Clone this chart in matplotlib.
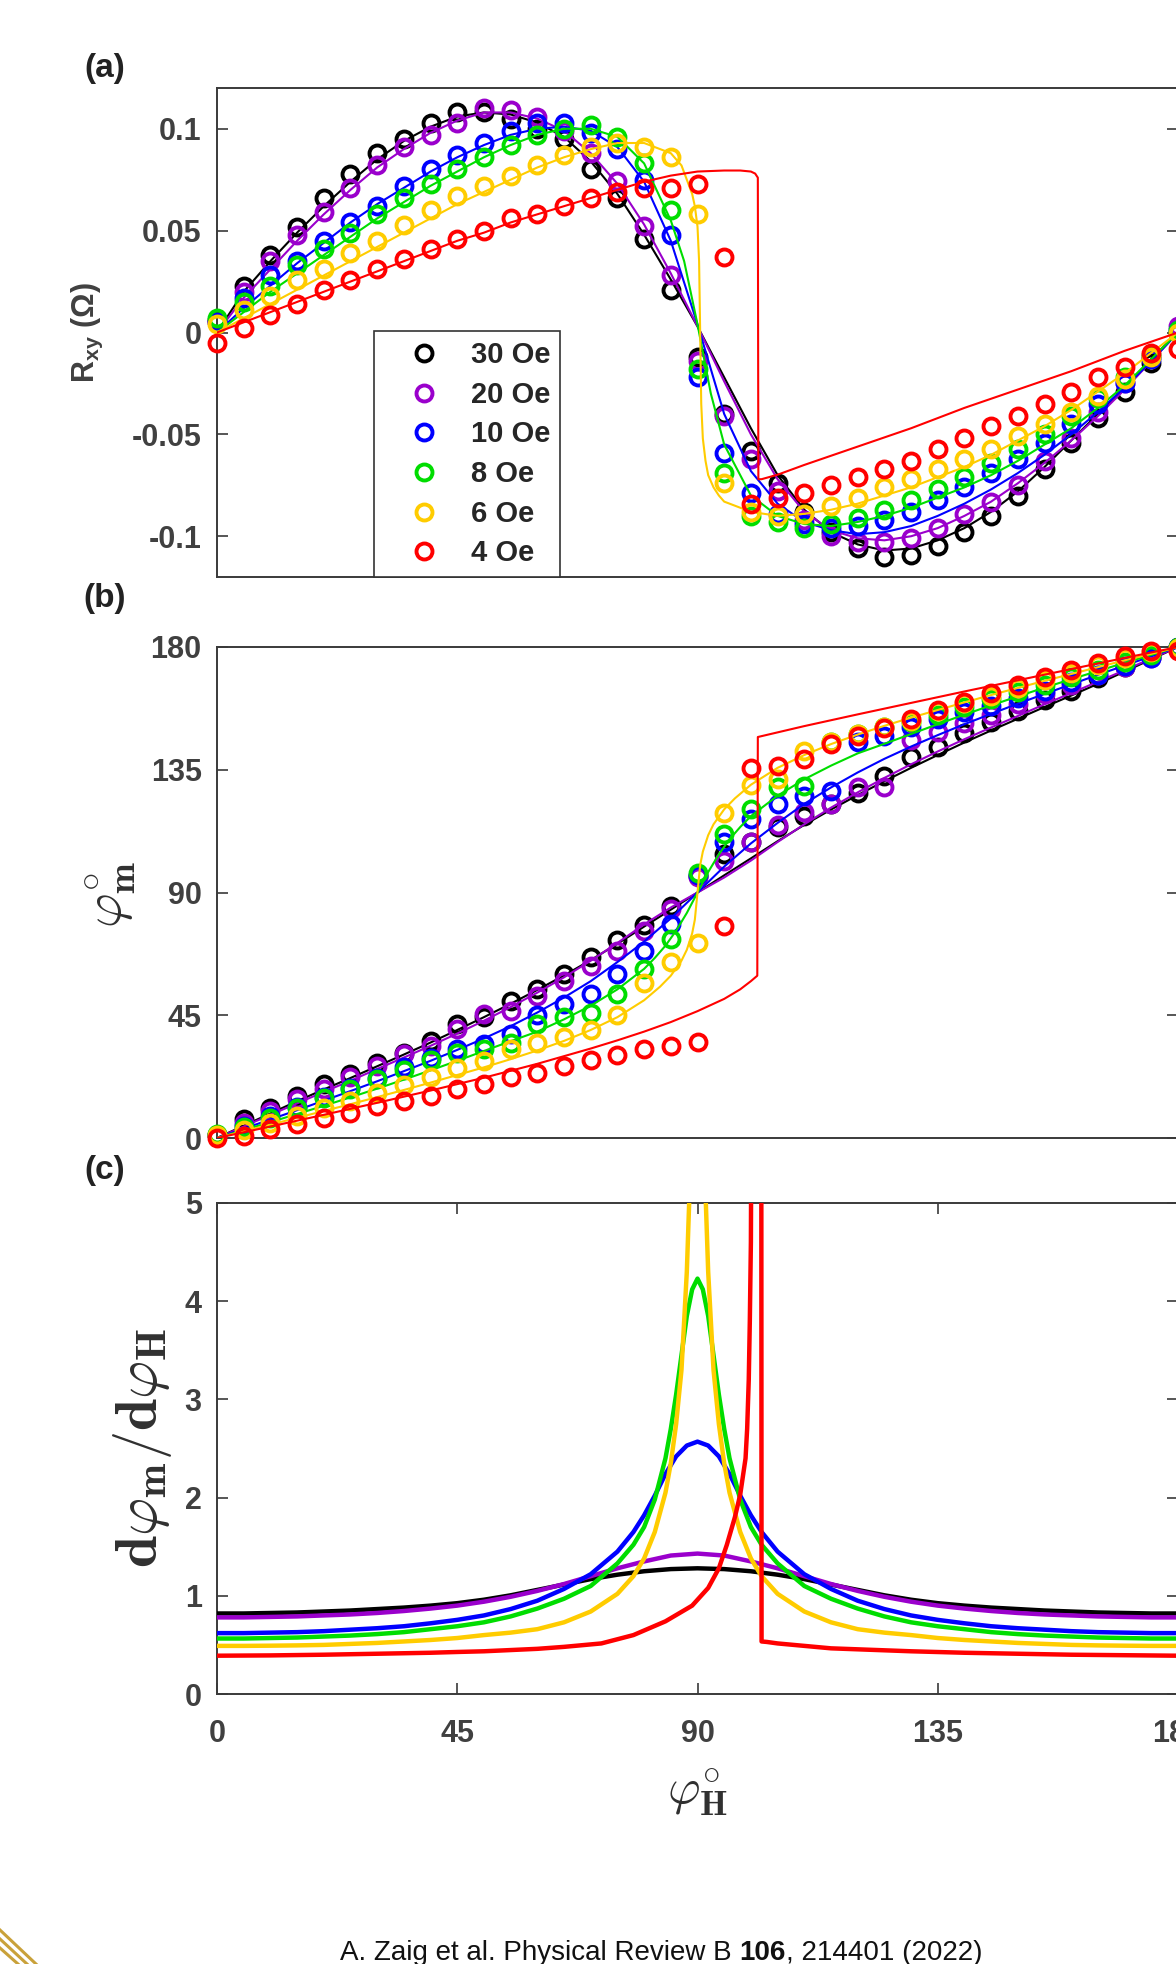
import matplotlib
matplotlib.use("Agg")
import matplotlib.pyplot as plt
from matplotlib.lines import Line2D

plt.rcParams['font.family'] = ['Liberation Sans', 'DejaVu Sans']
plt.rcParams['axes.unicode_minus'] = False

# ---- series names and colours
fields = ['30 Oe', '20 Oe', '10 Oe', '8 Oe', '6 Oe', '4 Oe']
colors = ['#000000', '#9a00cc', '#0000ff', '#00dd00', '#ffcc00', '#ff0000']

# field angle of the measured points (deg)
ang = [0, 5, 10, 15, 20, 25, 30, 35, 40, 45, 50, 55, 60, 65, 70, 75, 80, 85, 90,
       95, 100, 105, 110, 115, 120, 125, 130, 135, 140, 145, 150, 155, 160, 165,
       170, 175, 180]

# ---- (a) measured R_xy (ohm)
rxy_30 = [0.006, 0.023, 0.038, 0.052, 0.066, 0.078, 0.088, 0.095, 0.103, 0.108,
          0.108, 0.105, 0.100, 0.095, 0.080, 0.066, 0.046, 0.021, -0.012, -0.040,
          -0.058, -0.074, -0.088, -0.098, -0.106, -0.110, -0.109, -0.105, -0.098, -0.090,
          -0.080, -0.067, -0.054, -0.042, -0.029, -0.015, 0.000]
rxy_20 = [0.005, 0.020, 0.035, 0.048, 0.059, 0.071, 0.082, 0.091, 0.097, 0.103,
          0.110, 0.109, 0.106, 0.099, 0.088, 0.0745, 0.0525, 0.028, -0.014, -0.041,
          -0.062, -0.078, -0.092, -0.100, -0.103, -0.103, -0.101, -0.096, -0.089, -0.083,
          -0.075, -0.063, -0.052, -0.039, -0.025, -0.012, 0.003]
rxy_10 = [0.005, 0.017, 0.028, 0.035, 0.045, 0.054, 0.062, 0.072, 0.080, 0.087,
          0.093, 0.099, 0.103, 0.103, 0.098, 0.090, 0.075, 0.048, -0.022, -0.059,
          -0.079, -0.089, -0.094, -0.096, -0.095, -0.092, -0.088, -0.082, -0.076, -0.069,
          -0.062, -0.054, -0.045, -0.035, -0.025, -0.013, 0.001]
rxy_8 = [0.007, 0.015, 0.023, 0.033, 0.041, 0.049, 0.058, 0.066, 0.073, 0.080,
         0.086, 0.092, 0.097, 0.100, 0.102, 0.096, 0.083, 0.060, -0.018, -0.069,
         -0.090, -0.093, -0.096, -0.094, -0.091, -0.087, -0.082, -0.077, -0.071, -0.064,
         -0.057, -0.050, -0.041, -0.032, -0.022, -0.011, 0.001]
rxy_6 = [0.004, 0.011, 0.018, 0.026, 0.031, 0.039, 0.045, 0.053, 0.060, 0.067,
         0.072, 0.077, 0.082, 0.087, 0.091, 0.093, 0.091, 0.086, 0.058, -0.074,
         -0.088, -0.090, -0.089, -0.085, -0.081, -0.076, -0.072, -0.067, -0.062, -0.057,
         -0.051, -0.045, -0.039, -0.031, -0.023, -0.012, 0.000]
rxy_4 = [-0.005, 0.002, 0.0085, 0.014, 0.021, 0.026, 0.031, 0.036, 0.041, 0.046,
         0.050, 0.056, 0.058, 0.062, 0.066, 0.069, 0.071, 0.071, 0.073, 0.037,
         -0.084, -0.081, -0.079, -0.075, -0.071, -0.067, -0.063, -0.057, -0.052, -0.046,
         -0.041, -0.035, -0.029, -0.022, -0.017, -0.010, -0.008]

# (a) model curves
fa_30 = [0, 0.020, 0.035, 0.049, 0.062, 0.074, 0.085, 0.094, 0.101, 0.106,
         0.108, 0.107, 0.103, 0.096, 0.084, 0.068, 0.048, 0.026, 0.003, -0.022,
         -0.047, -0.070, -0.087, -0.098, -0.104, -0.107, -0.106, -0.102, -0.096, -0.088,
         -0.078, -0.066, -0.053, -0.040, -0.027, -0.013, 0.0]
fa_20 = [0, 0.017, 0.031, 0.045, 0.058, 0.070, 0.081, 0.090, 0.098, 0.104,
         0.108, 0.108, 0.105, 0.099, 0.088, 0.073, 0.053, 0.029, 0.003, -0.024,
         -0.050, -0.072, -0.088, -0.097, -0.101, -0.102, -0.100, -0.096, -0.090, -0.083,
         -0.074, -0.064, -0.053, -0.041, -0.028, -0.014, 0.0]
fa_10 = [0, 0.012, 0.023, 0.034, 0.044, 0.054, 0.063, 0.071, 0.079, 0.086,
         0.092, 0.097, 0.100, 0.101, 0.099, 0.091, 0.074, 0.045, 0.004, -0.040,
         -0.068, -0.084, -0.093, -0.097, -0.099, -0.098, -0.095, -0.090, -0.084, -0.077,
         -0.069, -0.060, -0.050, -0.039, -0.027, -0.014, 0.0]
fa_8_x = [0, 5, 10, 15, 20, 25, 30, 35, 40, 45, 50, 55, 60, 65, 70, 75, 80, 85, 87.5,
          90, 92.5, 95, 100, 105, 110, 115, 120, 125, 130, 135, 140, 145, 150, 155,
          160, 165, 170, 175, 180]
fa_8 = [0, 0.010, 0.020, 0.029, 0.038, 0.047, 0.056, 0.064, 0.072, 0.079,
        0.086, 0.092, 0.097, 0.100, 0.100, 0.096, 0.083, 0.055, 0.035,
        0.004, -0.030, -0.055, -0.080, -0.090, -0.094, -0.095, -0.093, -0.090, -0.086,
        -0.081, -0.076, -0.070, -0.063, -0.055, -0.047, -0.037, -0.026, -0.013, 0.0]
fa_6_x = [0, 5, 10, 15, 20, 25, 30, 35, 40, 45, 50, 55, 60, 65, 70, 75, 80,
          85, 87, 88, 89, 89.5, 90, 90.3, 90.5, 90.7, 91, 91.5, 92, 93, 94,
          95, 100, 105, 110, 115, 120, 125, 130, 135, 140, 145, 150, 155, 160, 165,
          170, 175, 180]
fa_6 = [0, 0.007, 0.014, 0.021, 0.028, 0.035, 0.042, 0.049, 0.056, 0.063, 0.069,
        0.075, 0.081, 0.086, 0.090, 0.093, 0.093,
        0.088, 0.082, 0.075, 0.068, 0.062, 0.052, 0.035, 0.0, -0.035, -0.052, -0.063,
        -0.070, -0.076, -0.080,
        -0.083, -0.088, -0.090, -0.089, -0.087, -0.084, -0.080, -0.076, -0.071, -0.066,
        -0.060, -0.053, -0.046, -0.038, -0.029, -0.020, -0.010, 0.0]
fa_4_x = [0, 5, 10, 15, 20, 25, 30, 35, 40, 45, 50, 55, 60, 65, 70, 75, 80, 85, 90,
          95, 98, 100, 100.8, 101.3, 101.4, 102, 105, 110, 120, 130, 140, 150, 160,
          170, 180]
fa_4 = [0, 0.005, 0.010, 0.015, 0.020, 0.025, 0.030, 0.035, 0.040, 0.045, 0.049,
        0.054, 0.058, 0.062, 0.066, 0.070, 0.074, 0.077, 0.079, 0.0795, 0.0795,
        0.079, 0.078, 0.076, -0.072, -0.072, -0.0698, -0.065, -0.056, -0.047, -0.037,
        -0.028, -0.019, -0.009, 0.0]

# ---- (b) measured magnetisation angle phi_m (deg)
phi_30 = [1, 6.9, 11.1, 15.5, 19.7, 23.4, 27.6, 31.2, 35.6, 41.8,
          44.5, 50.3, 54.5, 60.0, 66.5, 72.5, 78, 85, 96, 104,
          108.5, 114, 118, 122.3, 126.5, 132.8, 139.7, 143.5, 148.5, 152.5,
          156.5, 160.5, 164, 168.5, 172.5, 176.5, 180]
phi_20 = [1, 5.6, 9.9, 14.2, 17.9, 22.2, 26.4, 30.7, 33.8, 39.9,
          45.4, 46.5, 52.2, 57.7, 63.2, 68.5, 76, 84, 95.5, 101.4,
          108.4, 114.7, 119.5, 122.3, 128.6, 128.6, 146, 148.8, 152.3, 155,
          159, 162.7, 166.2, 169.7, 172.5, 176, 180]
phi_10 = [1, 4.5, 8, 11.5, 15, 18.5, 22, 26, 29.5, 32.5,
          34.5, 38, 45, 49, 52.7, 60.3, 68.7, 78.4, 96.5, 108.4,
          117, 122.5, 125.5, 127.2, 145, 147.5, 150.5, 153.5, 156, 158.5,
          161.3, 164, 167, 169.7, 173, 176, 180]
phi_8 = [1.5, 4, 7.5, 11, 14.8, 17.9, 21.5, 25, 28.5, 31,
         32.6, 35, 41.8, 44.2, 45.7, 52.7, 62, 73, 97, 111.5,
         120.5, 128.5, 129, 145, 148, 150.5, 152.5, 155, 158, 161,
         163.5, 166, 169, 171.5, 174.5, 177, 180]
phi_6 = [1, 3, 5.5, 8, 11, 13.5, 16.5, 19.5, 22.5, 25.5,
         28.3, 32.5, 35, 37, 39.5, 45, 57, 64.5, 71.5, 119,
         129.5, 131.5, 142, 145, 148, 150.5, 153, 156.5, 159.5, 162,
         165, 168, 170.5, 173.5, 176, 178, 179.5]
phi_4 = [0, 0.7, 3.2, 5, 7.5, 9.3, 11.8, 13.6, 15.4, 17.9,
         19.7, 22.2, 24, 26.5, 28.5, 30.5, 32.5, 33.9, 35.3, 77.7,
         135.5, 136.5, 139, 144.3, 147.3, 150.3, 153.5, 157, 160, 163.2,
         166, 169, 171.4, 174, 176.6, 178.6, 178.5]

# (b) model curves
fb_30 = [0, 4.5, 9, 13.5, 17.8, 22, 26.3, 30.6, 35, 39.6, 44.3, 49.2, 54.3, 59.6,
         65.2, 71.2, 77.5, 83.7, 90, 96.3, 102.5, 108.8, 114.8, 120.4, 125.7, 130.8,
         135.7, 140.4, 145, 149.4, 153.7, 158, 162.2, 166.5, 171, 175.5, 180]
fb_20 = [0, 4.2, 8.5, 12.7, 16.9, 21, 25.3, 29.5, 33.8, 38.3, 43, 48, 53.3, 58.9,
         65, 71.5, 78.3, 84.5, 90, 95.5, 101.7, 108.5, 115, 121.1, 126.7, 132, 137,
         141.7, 146.2, 150.5, 154.7, 159, 163.1, 167.3, 171.5, 175.8, 180]
fb_10 = [0, 3.4, 6.8, 10.2, 13.7, 17.2, 20.8, 24.5, 28.3, 32.3, 36.5, 41, 46, 51.5,
         57.5, 64.5, 72, 80.5, 90, 99.5, 108, 115.5, 122.5, 128.5, 134, 139, 143.5,
         147.7, 151.7, 155.5, 159.2, 162.8, 166.3, 169.8, 173.2, 176.6, 180]
fb_8_x = [0, 5, 10, 15, 20, 25, 30, 35, 40, 45, 50, 55, 60, 65, 70, 75, 80,
          82, 84, 86, 88, 90, 92, 94, 96, 98,
          100, 105, 110, 115, 120, 125, 130, 135, 140, 145, 150, 155, 160, 165, 170,
          175, 180]
fb_8 = [0, 2.9, 5.8, 8.8, 11.8, 14.9, 18.1, 21.4, 24.8, 28.3, 31.9, 35.5, 39, 43.5,
        48.5, 54.5, 62,
        66, 70.5, 76, 82.5, 90, 97.5, 104, 109.5, 114,
        118, 125.5, 131.5, 136.5, 141, 144.5, 148.1, 151.7, 155.2, 158.6, 161.9,
        165.1, 168.2, 171.2, 174.2, 177.1, 180]
fb_6_x = [0, 5, 10, 15, 20, 25, 30, 35, 40, 45, 50, 55, 60, 65, 70, 75, 80,
          83, 85, 87, 88, 89, 89.5, 90, 90.5, 91, 92, 93, 95, 97,
          100, 105, 110, 115, 120, 125, 130, 135, 140, 145, 150, 155, 160, 165, 170,
          175, 180]
fb_6 = [0, 2.5, 4.9, 7.4, 9.9, 12.4, 15, 17.6, 20.3, 23.1, 25.9, 28.9, 32.1, 35.6,
        39.6, 44.3, 50.5,
        55.5, 59.5, 65, 69, 75, 80, 90, 100, 105, 111, 115, 120.5, 124.5,
        129.5, 135.7, 140.4, 144.4, 147.9, 151.1, 154.1, 156.9, 159.7, 162.4, 165,
        167.6, 170.1, 172.6, 175.1, 177.5, 180]
fb_4_x = [0, 10, 20, 30, 40, 50, 60, 70, 75, 80, 85, 90, 95, 98, 100, 101.2, 101.3,
          110, 120, 130, 140, 150, 160, 170, 180]
fb_4 = [0, 4.2, 8.5, 12.9, 17.4, 22.1, 27.2, 32.8, 35.8, 39, 42.5, 46.5, 51, 54.5,
        57.5, 59.5, 147, 151, 155.3, 159.5, 163.7, 167.8, 171.9, 176, 180]

# ---- (c) model derivative d(phi_m)/d(phi_H)
fc_30 = [0.82, 0.82, 0.825, 0.83, 0.84, 0.85, 0.865, 0.88, 0.90, 0.925, 0.96, 1.005,
         1.06, 1.115, 1.17, 1.215, 1.25, 1.272, 1.28, 1.272, 1.25, 1.215, 1.17, 1.115,
         1.06, 1.005, 0.96, 0.925, 0.90, 0.88, 0.865, 0.85, 0.84, 0.83, 0.825, 0.82, 0.82]
fc_20 = [0.78, 0.78, 0.785, 0.79, 0.80, 0.81, 0.825, 0.845, 0.87, 0.90, 0.94, 0.99,
         1.05, 1.12, 1.20, 1.28, 1.35, 1.41, 1.43, 1.41, 1.35, 1.28, 1.20, 1.12,
         1.05, 0.99, 0.94, 0.90, 0.87, 0.845, 0.825, 0.81, 0.80, 0.79, 0.785, 0.78, 0.78]
fc_10_x = [0, 5, 10, 15, 20, 25, 30, 35, 40, 45, 50, 55, 60, 65, 70, 75,
           78, 80, 82, 84, 86, 88, 90, 92, 94, 96, 98, 100, 102,
           105, 110, 115, 120, 125, 130, 135, 140, 145, 150, 155, 160, 165, 170, 175, 180]
fc_10 = [0.62, 0.62, 0.625, 0.63, 0.64, 0.655, 0.67, 0.69, 0.72, 0.755, 0.80, 0.865,
         0.95, 1.07, 1.22, 1.45,
         1.65, 1.82, 2.02, 2.24, 2.42, 2.53, 2.57, 2.53, 2.42, 2.24, 2.02, 1.82, 1.65,
         1.45, 1.22, 1.07, 0.95, 0.865, 0.80, 0.755, 0.72, 0.69, 0.67, 0.655, 0.64,
         0.63, 0.625, 0.62, 0.62]
fc_8_x = [0, 5, 10, 15, 20, 25, 30, 35, 40, 45, 50, 55, 60, 65, 70, 75,
          78, 80, 82, 84, 85, 86, 87, 88, 89, 90, 91, 92, 93, 94, 95, 96, 98, 100, 102,
          105, 110, 115, 120, 125, 130, 135, 140, 145, 150, 155, 160, 165, 170, 175, 180]
fc_8 = [0.565, 0.565, 0.57, 0.575, 0.585, 0.595, 0.61, 0.63, 0.66, 0.69, 0.73, 0.79,
        0.87, 0.97, 1.10, 1.33,
        1.52, 1.70, 1.98, 2.40, 2.70, 3.05, 3.45, 3.85, 4.12, 4.23, 4.12, 3.85, 3.45,
        3.05, 2.70, 2.40, 1.98, 1.70, 1.52,
        1.33, 1.10, 0.97, 0.87, 0.79, 0.73, 0.69, 0.66, 0.63, 0.61, 0.595, 0.585,
        0.575, 0.57, 0.565, 0.565]
fc_6_x = [0, 5, 10, 15, 20, 25, 30, 35, 40, 45, 50, 55, 60, 65, 70, 75,
          78, 80, 82, 84, 85, 86, 87, 88, 88.5, 89, 89.5, 90, 90.5, 91, 91.5, 92, 93,
          94, 95, 96, 98, 100, 102,
          105, 110, 115, 120, 125, 130, 135, 140, 145, 150, 155, 160, 165, 170, 175, 180]
fc_6 = [0.49, 0.49, 0.492, 0.495, 0.50, 0.51, 0.52, 0.535, 0.55, 0.57, 0.60, 0.625,
        0.66, 0.73, 0.84, 1.02,
        1.20, 1.38, 1.65, 2.05, 2.35, 2.75, 3.3, 4.3, 5.1, 6.5, 8.0, 8.8, 8.0, 6.5,
        5.1, 4.3, 3.3, 2.75, 2.35, 2.05, 1.65, 1.38, 1.20,
        1.02, 0.84, 0.73, 0.66, 0.625, 0.60, 0.57, 0.55, 0.535, 0.52, 0.51, 0.50,
        0.495, 0.492, 0.49, 0.49]
fc_4_x = [0, 10, 20, 30, 40, 45, 50, 60, 65, 72, 78, 84, 89, 92, 94, 95.5, 97, 98,
          99, 99.3, 99.6, 99.8, 100, 100.1, 101.95, 102, 103, 105, 110, 115, 120,
          130, 140, 150, 160, 170, 180]
fc_4 = [0.39, 0.393, 0.40, 0.41, 0.42, 0.428, 0.435, 0.46, 0.48, 0.515, 0.60, 0.74,
        0.90, 1.08, 1.28, 1.52, 1.80, 2.03, 2.4, 2.7, 3.2, 3.8, 4.6, 6.0, 6.0, 0.535,
        0.53, 0.515, 0.49, 0.465, 0.455, 0.435, 0.42, 0.41, 0.40, 0.395, 0.39]

meas_a = [rxy_30, rxy_20, rxy_10, rxy_8, rxy_6, rxy_4]
fit_a = [(ang, fa_30), (ang, fa_20), (ang, fa_10), (fa_8_x, fa_8), (fa_6_x, fa_6),
         (fa_4_x, fa_4)]
meas_b = [phi_30, phi_20, phi_10, phi_8, phi_6, phi_4]
fit_b = [(ang, fb_30), (ang, fb_20), (ang, fb_10), (fb_8_x, fb_8), (fb_6_x, fb_6),
         (fb_4_x, fb_4)]
fit_c = [(ang, fc_30), (ang, fc_20), (fc_10_x, fc_10), (fc_8_x, fc_8), (fc_6_x, fc_6),
         (fc_4_x, fc_4)]

W, H = 1176, 1964
fig = plt.figure(figsize=(W / 100, H / 100), dpi=100)


def px_box(top, bottom, left=217, right=1178):
    return [left / W, 1 - bottom / H, (right - left) / W, (bottom - top) / H]


ax_a = fig.add_axes(px_box(88, 577))
ax_b = fig.add_axes(px_box(647, 1138))
ax_c = fig.add_axes(px_box(1203, 1694))

axis_col = '#3a3a3a'
tick_col = '#404040'
mk = dict(ls='none', marker='o', ms=11.5, mfc='none', mew=2.8, clip_on=False)

for i, c in enumerate(colors):
    ax_a.plot(ang, meas_a[i], mec=c, zorder=3 + i, **mk)
    ax_a.plot(fit_a[i][0], fit_a[i][1], color=c, lw=1.5, zorder=3 + i)
    ax_b.plot(ang, meas_b[i], mec=c, zorder=3 + i, **mk)
    ax_b.plot(fit_b[i][0], fit_b[i][1], color=c, lw=1.5, zorder=3 + i)
    ax_c.plot(fit_c[i][0], fit_c[i][1], color=c, lw=3.2, zorder=3 + i)

for ax in (ax_a, ax_b, ax_c):
    ax.set_xlim(0, 180)
    for s in ax.spines.values():
        s.set_color(axis_col)
        s.set_linewidth(1.4)
    ax.tick_params(axis='y', direction='in', length=8, width=1.2, color=axis_col,
                   labelcolor=tick_col, labelsize=22, pad=11, left=True, right=True)

ax_a.set_ylim(-0.12, 0.12)
ax_a.set_yticks([-0.1, -0.05, 0, 0.05, 0.1])
ax_a.set_yticklabels(['-0.1', '-0.05', '0', '0.05', '0.1'], fontweight='bold')
ax_b.set_ylim(0, 180)
ax_b.set_yticks([0, 45, 90, 135, 180])
ax_b.set_yticklabels(['0', '45', '90', '135', '180'], fontweight='bold')
ax_c.set_ylim(0, 5)
ax_c.set_yticks([0, 1, 2, 3, 4, 5])
ax_c.set_yticklabels(['0', '1', '2', '3', '4', '5'], fontweight='bold')

for ax in (ax_a, ax_b):
    ax.set_xticks([])
ax_c.set_xticks([0, 45, 90, 135, 180])
ax_c.set_xticklabels(['0', '45', '90', '135', '180'], fontweight='bold')
ax_c.tick_params(axis='x', direction='in', length=8, width=1.2, color=axis_col,
                 labelcolor=tick_col, labelsize=22, pad=18, top=True, bottom=True)

# legend in panel (a)
handles = [Line2D([], [], ls='none', marker='o', ms=11.5, mfc='none', mec=c, mew=2.8)
           for c in colors]
leg = ax_a.legend(handles, fields, loc='lower left', bbox_to_anchor=(0.1634, 0.0),
                  borderaxespad=0, prop={'size': 21, 'weight': 'bold'},
                  labelcolor='#262626', frameon=True, fancybox=False,
                  edgecolor='#333333', framealpha=1, borderpad=0.33,
                  labelspacing=0.40, handlelength=2.76, handletextpad=0.23)
leg.get_frame().set_linewidth(1.2)
leg.set_zorder(20)

# axis labels
fig.text(87 / W, 1 - 333 / H, 'R$_{\\mathregular{xy}}$ (Ω)', rotation=90,
         ha='center', va='center', fontsize=22, fontweight='bold', color=tick_col)
fig.text(111 / W, 1 - 894 / H, r'$\varphi_{\mathbf{m}}^{\circ}$', rotation=90,
         ha='center', va='center', fontsize=38, math_fontfamily='cm', color='#303030')
fig.text(143 / W, 1 - 1448 / H,
         r'$\mathbf{d}\varphi_{\mathbf{m}}/\mathbf{d}\varphi_{\mathbf{H}}$',
         rotation=90, ha='center', va='center', fontsize=42, math_fontfamily='cm',
         color='#303030')
fig.text(697 / W, 1 - 1792 / H, r'$\varphi_{\mathbf{H}}^{\circ}$', ha='center',
         va='center', fontsize=36, math_fontfamily='cm', color='#303030')

# panel letters
for lab, y in (('(a)', 69), ('(b)', 598), ('(c)', 1170)):
    fig.text(105 / W, 1 - y / H, lab, ha='center', va='center', fontsize=24,
             fontweight='bold', color='#222222')

# citation line at the bottom
cite_font = ['Liberation Sans Narrow', 'Liberation Sans', 'DejaVu Sans']
parts = [('A. Zaig et al. Physical Review B ', 'normal'), ('106', 'bold'),
         (', 214401 (2022)', 'normal')]
fig.canvas.draw()
renderer = fig.canvas.get_renderer()
x0 = 340
for txt, w in parts:
    t = fig.text(x0 / W, 1 - 1960 / H, txt, ha='left', va='baseline', fontsize=20,
                 family=cite_font, fontweight=w, color='#111111')
    x0 = t.get_window_extent(renderer).x1

# golden corner ornament
for k in range(3):
    fig.add_artist(Line2D([0, (36 - 9 * k) / W], [1 - (1930 + 9 * k) / H, 0],
                          color='#c9a13a', lw=2.2, transform=fig.transFigure))

fig.savefig('out.png', dpi=100)
